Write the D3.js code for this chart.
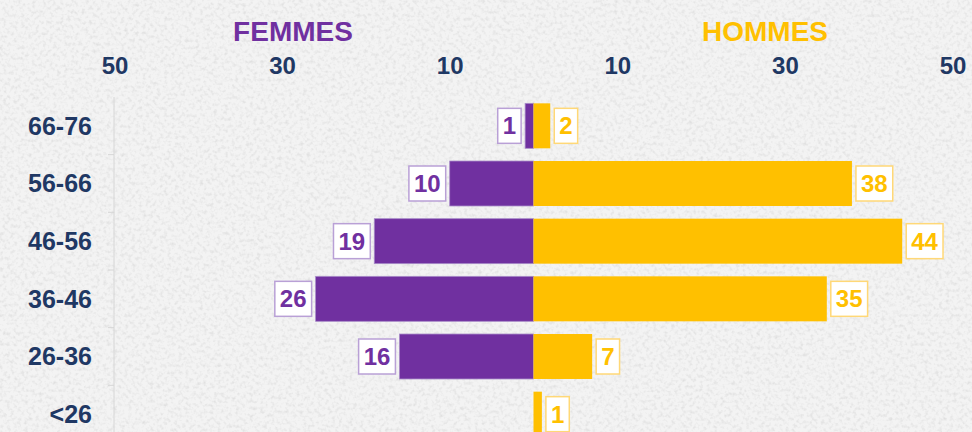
<!DOCTYPE html>
<html lang="fr">
<head>
    <meta charset="UTF-8" />
    <title>Pyramide des âges</title>
    <script src="https://d3js.org/d3.v7.min.js"></script>
    <style>
        body { margin: 0; background: #ebebeb; }
        svg text { font-family: "Liberation Sans", Arial, sans-serif; font-weight: bold; }
    </style>
</head>
<body>
<script>
    // data
    var ages = ["66-76", "56-66", "46-56", "36-46", "26-36", "<26"];
    var femmes = [1, 10, 19, 26, 16, 0];
    var hommes = [2, 38, 44, 35, 7, 1];
    var tickValues = [-50, -30, -10, 10, 30, 50];

    var w = 972, h = 432;
    var purple = "#7030a0", gold = "#ffc000", navy = "#1f3864";

    var svg = d3.select("body").append("svg")
        .attr("width", w)
        .attr("height", h);

    // grainy paper background
    var defs = svg.append("defs");
    var f = defs.append("filter").attr("id", "grain")
        .attr("x", 0).attr("y", 0).attr("width", "100%").attr("height", "100%");
    f.append("feTurbulence")
        .attr("type", "fractalNoise")
        .attr("baseFrequency", 0.28)
        .attr("numOctaves", 2)
        .attr("seed", 7)
        .attr("result", "noise");
    f.append("feColorMatrix")
        .attr("in", "noise")
        .attr("type", "matrix")
        .attr("values", "0 0 0 0 0.5  0 0 0 0 0.5  0 0 0 0 0.5  -2.2 0 0 0 1.2");

    svg.append("rect").attr("width", w).attr("height", h).attr("fill", "#f3f3f3");
    svg.append("rect").attr("width", w).attr("height", h).attr("filter", "url(#grain)").attr("opacity", 0.35);

    var x = d3.scaleLinear()
        .domain([-50, 50])
        .range([114.5, 952.5]);

    var y = d3.scaleBand()
        .domain(ages)
        .range([97, 443])
        .paddingInner(0.22)
        .paddingOuter(0.11);

    // titles
    svg.append("text")
        .attr("x", 293).attr("y", 41)
        .attr("text-anchor", "middle")
        .style("font-size", "28px")
        .style("fill", purple)
        .text("FEMMES");

    svg.append("text")
        .attr("x", 765).attr("y", 41)
        .attr("text-anchor", "middle")
        .style("font-size", "28px")
        .style("fill", gold)
        .text("HOMMES");

    // top axis
    var xAxis = svg.append("g")
        .attr("transform", "translate(0, 74)")
        .call(d3.axisTop(x).tickValues(tickValues).tickSize(0).tickPadding(0)
            .tickFormat(function (d) { return Math.abs(d); }));
    xAxis.select(".domain").remove();
    xAxis.selectAll("text")
        .style("font-size", "24px")
        .style("fill", navy)
        .style("font-family", "'Liberation Sans', Arial, sans-serif");

    // category axis (faint line with ticks between bands)
    var step = y.step();
    svg.append("line")
        .attr("x1", 114).attr("x2", 114)
        .attr("y1", 97).attr("y2", h)
        .style("stroke", "#d6d6d6")
        .style("stroke-width", 1);
    svg.selectAll(".cattick")
        .data(d3.range(1, ages.length))
        .enter().append("line")
        .attr("x1", 108).attr("x2", 114)
        .attr("y1", function (d) { return 97 + d * step; })
        .attr("y2", function (d) { return 97 + d * step; })
        .style("stroke", "#d6d6d6");

    svg.selectAll(".cat")
        .data(ages)
        .enter().append("text")
        .attr("x", 92)
        .attr("y", function (d) { return y(d) + y.bandwidth() / 2; })
        .attr("dy", "0.35em")
        .attr("text-anchor", "end")
        .style("font-size", "25px")
        .style("fill", navy)
        .text(function (d) { return d; });

    // bars
    var rows = ages.map(function (a, i) { return { age: a, f: femmes[i], m: hommes[i] }; });

    svg.selectAll(".barF")
        .data(rows.filter(function (d) { return d.f > 0; }))
        .enter().append("rect")
        .attr("x", function (d) { return x(-d.f); })
        .attr("y", function (d) { return y(d.age); })
        .attr("width", function (d) { return x(0) - x(-d.f); })
        .attr("height", y.bandwidth())
        .style("fill", purple)
        .style("stroke", "#a88cc8")
        .style("stroke-width", 0.8);

    svg.selectAll(".barM")
        .data(rows.filter(function (d) { return d.m > 0; }))
        .enter().append("rect")
        .attr("x", x(0))
        .attr("y", function (d) { return y(d.age); })
        .attr("width", function (d) { return x(d.m) - x(0); })
        .attr("height", y.bandwidth())
        .style("fill", gold);

    // value labels in boxes
    function boxW(v) { return String(v).length * 13.4 + 10; }
    var boxH = 35;

    function addLabels(data, getV, color, border, side) {
        var g = svg.selectAll(".lbl" + side)
            .data(data.filter(function (d) { return getV(d) > 0; }))
            .enter().append("g")
            .attr("transform", function (d) {
                var v = getV(d);
                var bx = side === "f" ? x(-v) - 4 - boxW(v) : x(v) + 4;
                return "translate(" + bx + "," + (y(d.age) + y.bandwidth() / 2 - boxH / 2) + ")";
            });
        g.append("rect")
            .attr("width", function (d) { return boxW(getV(d)); })
            .attr("height", boxH)
            .style("fill", "#ffffff")
            .style("stroke", border)
            .style("stroke-width", 1.5);
        g.append("text")
            .attr("x", function (d) { return boxW(getV(d)) / 2; })
            .attr("y", boxH / 2)
            .attr("dy", "0.36em")
            .attr("text-anchor", "middle")
            .style("font-size", "24px")
            .style("fill", color)
            .text(function (d) { return getV(d); });
    }

    addLabels(rows, function (d) { return d.f; }, purple, "#b9a0d6", "f");
    addLabels(rows, function (d) { return d.m; }, gold, "#ffd877", "m");
</script>
</body>
</html>
